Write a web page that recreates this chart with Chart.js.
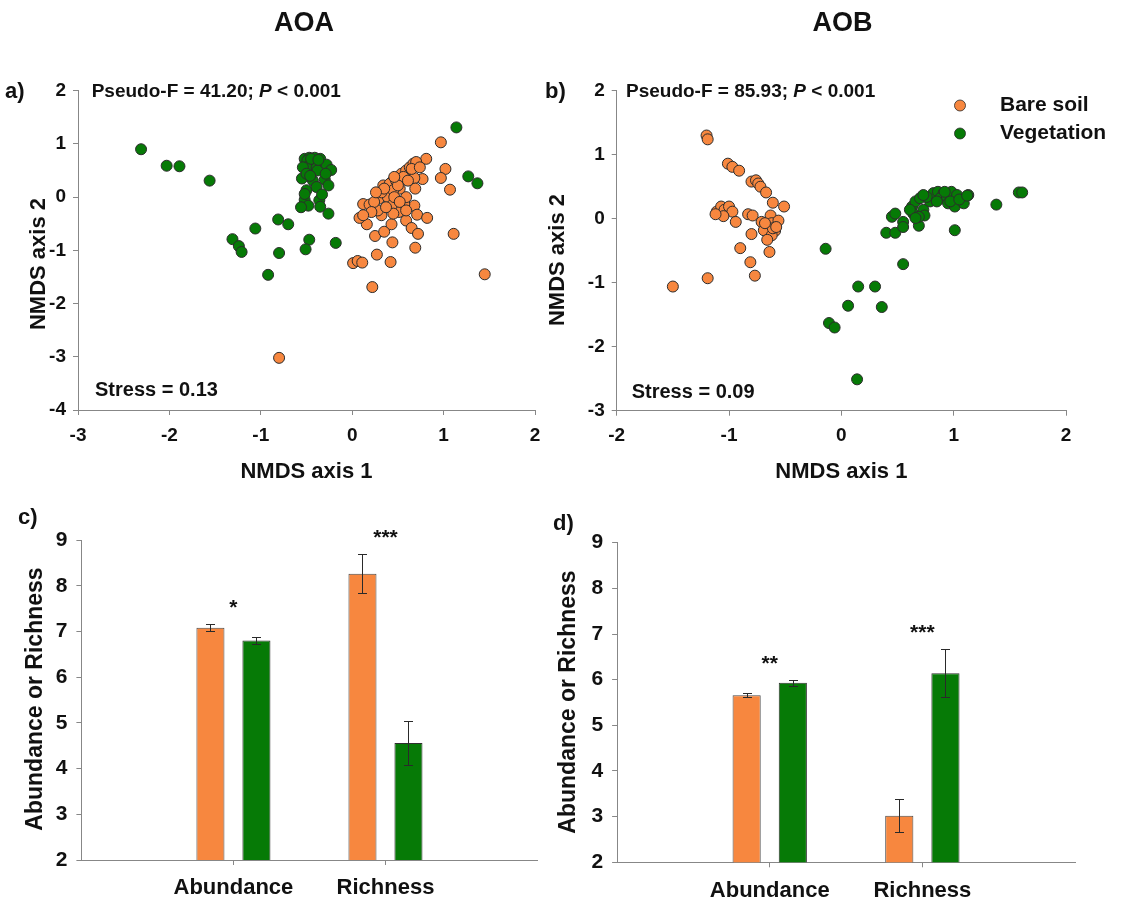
<!DOCTYPE html>
<html>
<head>
<meta charset="utf-8">
<title>AOA / AOB community structure</title>
<script src="https://cdn.jsdelivr.net/npm/chart.js@4.4.1/dist/chart.umd.min.js"></script>
<style>
  html, body { margin: 0; padding: 0; background: #fff; }
  #page { position: relative; width: 1127px; height: 903px; overflow: hidden; }
  canvas { position: absolute; }
</style>
</head>
<body>
<div id="page">
  <canvas id="nmdsAoa" width="563" height="500" style="left:0;top:0"></canvas>
  <canvas id="nmdsAob" width="597" height="500" style="left:530px;top:0"></canvas>
  <canvas id="barsAoa" width="560" height="403" style="left:0;top:500px"></canvas>
  <canvas id="barsAob" width="582" height="403" style="left:545px;top:500px"></canvas>
</div>
<script>
// NMDS site scores, AOA
const aoaBareX = [0.97, 0.81, 1.02, 0.97, 1.07, 0.77, 0.68, 0.69, 0.68, 0.71, 0.82, 0.59, 0.65, 0.72, 0.69, 1.11, 1.45, -0.80,
  0.22, 0.01, 0.06, 0.11, 0.27, 0.42, 0.44, 0.25, 0.35, 0.43, 0.51, 0.32, 0.16, 0.08, 0.12, 0.19, 0.28, 0.29, 0.39, 0.43,
  0.45, 0.57, 0.59, 0.52, 0.43, 0.32, 0.34, 0.41, 0.48, 0.54, 0.59, 0.63, 0.67, 0.70, 0.65, 0.56, 0.45, 0.24, 0.21, 0.12,
  0.46, 0.52, 0.37, 0.61, 0.50, 0.74, 0.46, 0.35, 0.26, 0.59];
const aoaBareY = [1.03, 0.72, 0.53, 0.36, 0.14, 0.34, 0.36, 0.16, -0.16, -0.33, -0.39, -0.44, -0.58, -0.69, -0.95, -0.69, -1.45, -3.02,
  -1.69, -1.24, -1.20, -1.23, -1.08, -1.22, -0.85, -0.73, -0.65, -0.51, -0.28, -0.34, -0.51, -0.39, -0.13, -0.14, -0.25, -0.03, 0.00, -0.16,
  -0.31, -0.13, 0.00, 0.16, 0.28, 0.09, 0.22, 0.25, 0.31, 0.44, 0.50, 0.56, 0.63, 0.66, 0.53, 0.38, 0.13, -0.09, -0.28, -0.34,
  0.00, -0.09, -0.19, 0.31, 0.22, 0.56, 0.38, 0.16, 0.09, -0.25];
const aoaVegX = [-2.31, -2.03, -1.89, -1.56, 1.14, 1.27, 1.37, -0.81, -0.70, -1.06, -1.31, -1.24, -1.21, -0.80, -0.92, -0.47, -0.51, -0.18,
  -0.26, -0.52, -0.47, -0.41, -0.35, -0.49, -0.43, -0.50, -0.39, -0.28, -0.23, -0.54, -0.38, -0.43, -0.55, -0.30, -0.26, -0.50,
  -0.39, -0.52, -0.48, -0.56, -0.36, -0.35, -0.52, -0.29, -0.50, -0.45, -0.37, -0.46, -0.33];
const aoaVegY = [0.90, 0.59, 0.58, 0.31, 1.31, 0.39, 0.26, -0.42, -0.51, -0.59, -0.79, -0.92, -1.03, -1.05, -1.46, -0.80, -0.98, -0.86,
  -0.31, 0.72, 0.74, 0.74, 0.72, 0.69, 0.66, 0.56, 0.55, 0.61, 0.51, 0.56, 0.50, 0.31, 0.35, 0.33, 0.22, 0.13,
  0.19, -0.05, -0.16, -0.19, -0.06, -0.18, 0.06, 0.44, 0.44, 0.72, 0.70, 0.40, 0.05];

// NMDS site scores, AOB
const aobBareX = [-1.20, -1.19, -1.01, -0.97, -0.91, -0.80, -0.76, -0.74, -0.72, -0.67, -0.61, -0.51, -1.11, -1.07, -1.04, -1.00,
  -0.97, -1.05, -1.12, -0.94, -0.83, -0.79, -0.71, -0.63, -0.62, -0.56, -0.69, -0.59, -0.62, -0.66, -0.80, -0.90, -0.64, -0.81,
  -0.77, -1.19, -1.50, -0.61, -0.68, -0.58];
const aobBareY = [1.30, 1.24, 0.86, 0.81, 0.75, 0.58, 0.60, 0.55, 0.50, 0.41, 0.25, 0.19, 0.11, 0.19, 0.14, 0.19,
  0.11, 0.04, 0.07, -0.05, 0.07, 0.05, -0.05, 0.05, -0.07, -0.03, -0.18, -0.19, -0.26, -0.33, -0.24, -0.46, -0.52, -0.68,
  -0.89, -0.93, -1.06, -0.15, -0.07, -0.13];
const aobVegX = [-0.14, 0.15, 0.30, 0.06, 0.36, -0.11, -0.06, 0.14, 0.55, 0.40, 0.48, 0.45, 0.48, 0.55, 0.55, 0.69, 1.01, 1.38,
  1.58, 1.61, 1.13, 0.63, 0.66, 0.70, 0.64, 0.73, 0.74, 0.79, 0.82, 0.86, 0.91, 0.88, 0.94, 0.95, 0.98, 1.03, 1.01, 1.09,
  0.69, 0.61, 0.76, 0.85, 0.97, 0.92, 0.73, 0.66, 1.05, 1.12];
const aobVegY = [-0.47, -1.06, -1.06, -1.36, -1.38, -1.63, -1.70, -2.51, -0.71, -0.22, -0.22, 0.03, 0.08, -0.05, -0.13, -0.11, -0.18, 0.22,
  0.41, 0.41, 0.37, 0.19, 0.27, 0.32, 0.08, 0.14, 0.05, 0.27, 0.40, 0.42, 0.40, 0.32, 0.34, 0.24, 0.42, 0.37, 0.19, 0.24,
  0.03, 0.14, 0.34, 0.27, 0.27, 0.42, 0.37, 0.01, 0.30, 0.36];

// Abundance / richness means with standard errors
const groups = ['Abundance', 'Richness'];
const seriesNames = ['Bare soil', 'Vegetation'];
const aoaBareMean = [7.08, 8.26];
const aoaBareSe = [0.08, 0.43];
const aoaVegMean = [6.80, 4.56];
const aoaVegSe = [0.08, 0.48];
const aobBareMean = [5.66, 3.02];
const aobBareSe = [0.05, 0.36];
const aobVegMean = [5.93, 6.14];
const aobVegSe = [0.06, 0.53];
const aoaStars = ['*', '***'];
const aobStars = ['**', '***'];

const FONT = "'Liberation Sans', Arial, Helvetica, sans-serif";
const ORANGE = '#F7873F';
const GREEN = '#067A06';
const AXIS = '#878787';
const INK = '#111';

function pts(xs, ys) {
  return xs.map((x, i) => ({ x: x, y: ys[i] }));
}

// empty slots either side so the two groups sit at 1/3 and 2/3 of the axis
function padded(arr) {
  return [null].concat(arr, [null]);
}

// free text: panel letters, headers, statistics, rotated axis titles
const panelText = {
  id: 'panelText',
  afterDraw(chart, args, opts) {
    const ctx = chart.ctx;
    (opts.items || []).forEach(item => {
      const parts = Array.isArray(item.text) ? item.text : [{ t: item.text }];
      const fontOf = p => (p.italic ? 'italic ' : '') + 'bold ' + item.size + 'px ' + FONT;
      ctx.save();
      ctx.translate(item.x, item.y);
      if (item.rotate) ctx.rotate(item.rotate * Math.PI / 180);
      ctx.fillStyle = INK;
      ctx.textAlign = 'left';
      ctx.textBaseline = 'middle';
      let total = 0;
      parts.forEach(p => { ctx.font = fontOf(p); total += ctx.measureText(p.t).width; });
      let x = item.align === 'center' ? -total / 2 : 0;
      parts.forEach(p => {
        ctx.font = fontOf(p);
        ctx.fillText(p.t, x, 0);
        x += ctx.measureText(p.t).width;
      });
      ctx.restore();
    });
  }
};

// round-marker legend drawn inside the plot
const dotLegend = {
  id: 'dotLegend',
  afterDraw(chart, args, opts) {
    if (!opts.show) return;
    const ctx = chart.ctx;
    chart.data.datasets.forEach((ds, i) => {
      const y = opts.y + i * opts.rowGap;
      ctx.save();
      ctx.beginPath();
      ctx.arc(opts.x, y, opts.radius, 0, Math.PI * 2);
      ctx.fillStyle = ds.backgroundColor;
      ctx.fill();
      ctx.lineWidth = 0.8;
      ctx.strokeStyle = ds.borderColor;
      ctx.stroke();
      ctx.fillStyle = INK;
      ctx.font = 'bold ' + opts.size + 'px ' + FONT;
      ctx.textBaseline = 'middle';
      ctx.fillText(ds.label, opts.textX, y);
      ctx.restore();
    });
  }
};

// standard-error whiskers plus significance asterisks over each group
const errorBars = {
  id: 'errorBars',
  afterDatasetsDraw(chart, args, opts) {
    if (!opts.errors) return;
    const ctx = chart.ctx;
    const xs = chart.scales.x, ys = chart.scales.y;
    const tops = [];
    chart.data.datasets.forEach((ds, i) => {
      chart.getDatasetMeta(i).data.forEach((bar, j) => {
        const mean = ds.data[j];
        if (mean == null) return;
        const se = opts.errors[i][j];
        const hi = Math.round(ys.getPixelForValue(mean + se)) + 0.5;
        const lo = Math.round(ys.getPixelForValue(mean - se)) + 0.5;
        const x = Math.round(bar.x) + 0.5;
        ctx.save();
        ctx.strokeStyle = '#2a2a2a';
        ctx.lineWidth = 1;
        ctx.beginPath();
        ctx.moveTo(x, hi); ctx.lineTo(x, lo);
        ctx.moveTo(x - opts.cap, hi); ctx.lineTo(x + opts.cap, hi);
        ctx.moveTo(x - opts.cap, lo); ctx.lineTo(x + opts.cap, lo);
        ctx.stroke();
        ctx.restore();
        tops[j] = Math.min(tops[j] === undefined ? Infinity : tops[j], hi);
      });
    });
    ctx.save();
    ctx.fillStyle = INK;
    ctx.font = 'bold 21px ' + FONT;
    ctx.textAlign = 'center';
    ctx.textBaseline = 'alphabetic';
    (opts.stars || []).forEach((s, j) => {
      if (!s) return;
      ctx.fillText(s, xs.getPixelForValue(j), tops[j] - opts.starLift);
    });
    ctx.restore();
  }
};

function tickFont(size) {
  return { family: FONT, size: size, weight: 'bold' };
}

function nmdsConfig(sets, xr, yr, box, texts, legend) {
  return {
    type: 'scatter',
    data: {
      datasets: sets.map(s => ({
        label: s.label,
        data: s.data,
        backgroundColor: s.color,
        borderColor: '#2c2c2c',
        borderWidth: 1,
        pointRadius: 5.5,
        pointHoverRadius: 5.5
      }))
    },
    options: {
      responsive: false,
      animation: false,
      events: [],
      layout: { padding: box.padding },
      plugins: {
        legend: { display: false },
        tooltip: { enabled: false },
        panelText: { items: texts },
        dotLegend: legend
      },
      scales: {
        x: {
          type: 'linear', min: xr[0], max: xr[1],
          afterFit: s => { s.height = box.xh; },
          ticks: { stepSize: 1, color: INK, padding: 9, font: tickFont(19) },
          grid: { drawOnChartArea: false, tickLength: 5, color: AXIS },
          border: { color: AXIS, width: 1 },
          title: {
            display: true, text: 'NMDS axis 1', color: INK,
            font: tickFont(22), padding: { top: 0, bottom: 15 }
          }
        },
        y: {
          type: 'linear', min: yr[0], max: yr[1],
          afterFit: s => { s.width = box.yw; },
          ticks: { stepSize: 1, color: INK, padding: 7, font: tickFont(19) },
          grid: { drawOnChartArea: false, tickLength: 5, color: AXIS },
          border: { color: AXIS, width: 1 }
        }
      }
    },
    plugins: [panelText, dotLegend]
  };
}

function barConfig(bare, veg, errs, stars, box, texts) {
  return {
    type: 'bar',
    data: {
      labels: padded(groups).map(g => g || ''),
      datasets: [
        { label: seriesNames[0], data: padded(bare), backgroundColor: ORANGE, borderColor: '#4a4a4a', borderWidth: 1 },
        { label: seriesNames[1], data: padded(veg), backgroundColor: GREEN, borderColor: '#2f2f2f', borderWidth: 1 }
      ]
    },
    options: {
      responsive: false,
      animation: false,
      events: [],
      categoryPercentage: 0.605,
      barPercentage: 0.61,
      layout: { padding: box.padding },
      plugins: {
        legend: { display: false },
        tooltip: { enabled: false },
        panelText: { items: texts },
        errorBars: { errors: [padded(errs[0]), padded(errs[1])], stars: padded(stars), cap: 4.5, starLift: 11 }
      },
      scales: {
        x: {
          offset: false,
          afterFit: s => { s.height = box.xh; },
          ticks: { color: INK, padding: 10, maxRotation: 0, autoSkip: false, font: tickFont(22) },
          grid: {
            offset: false, drawOnChartArea: false, tickLength: 5, color: AXIS,
            tickColor: c => (c.index === 1 || c.index === 2) ? AXIS : 'rgba(0,0,0,0)'
          },
          border: { color: AXIS, width: 1 }
        },
        y: {
          min: 2, max: 9,
          afterFit: s => { s.width = box.yw; },
          ticks: { stepSize: 1, color: INK, padding: 9, font: tickFont(21) },
          grid: { drawOnChartArea: false, tickLength: 5, color: AXIS },
          border: { color: AXIS, width: 1 }
        }
      }
    },
    plugins: [panelText, errorBars]
  };
}

new Chart(document.getElementById('nmdsAoa'), nmdsConfig(
  [
    { label: seriesNames[0], data: pts(aoaBareX, aoaBareY), color: ORANGE },
    { label: seriesNames[1], data: pts(aoaVegX, aoaVegY), color: GREEN }
  ],
  [-3, 2], [-4, 2],
  { padding: { left: 0, top: 90.7, right: 28, bottom: 0 }, yw: 78, xh: 90 },
  [
    { text: 'AOA', x: 304, y: 24, size: 27, align: 'center' },
    { text: 'a)', x: 5, y: 92, size: 22 },
    { text: [{ t: 'Pseudo-F = 41.20; ' }, { t: 'P', italic: true }, { t: ' < 0.001' }], x: 91.7, y: 91.5, size: 19 },
    { text: 'Stress = 0.13', x: 95, y: 390, size: 20 },
    { text: 'NMDS axis 2', x: 39, y: 264, size: 22, rotate: -90, align: 'center' }
  ],
  { show: false }
));

new Chart(document.getElementById('nmdsAob'), nmdsConfig(
  [
    { label: seriesNames[0], data: pts(aobBareX, aobBareY), color: ORANGE },
    { label: seriesNames[1], data: pts(aobVegX, aobVegY), color: GREEN }
  ],
  [-2, 2], [-3, 2],
  { padding: { left: 0, top: 90.7, right: 61, bottom: 0 }, yw: 86.7, xh: 89.3 },
  [
    { text: 'AOB', x: 312.5, y: 24, size: 27, align: 'center' },
    { text: 'b)', x: 15, y: 92, size: 22 },
    { text: [{ t: 'Pseudo-F = 85.93; ' }, { t: 'P', italic: true }, { t: ' < 0.001' }], x: 96, y: 91.5, size: 19 },
    { text: 'Stress = 0.09', x: 101.7, y: 392, size: 20 },
    { text: 'NMDS axis 2', x: 27.5, y: 260, size: 22, rotate: -90, align: 'center' }
  ],
  { show: true, x: 430, y: 105.5, rowGap: 28, radius: 5.5, textX: 470, size: 21 }
));

new Chart(document.getElementById('barsAoa'), barConfig(
  aoaBareMean, aoaVegMean, [aoaBareSe, aoaVegSe], aoaStars,
  { padding: { left: 0, top: 40, right: 22.5, bottom: 0 }, yw: 81.4, xh: 43 },
  [
    { text: 'c)', x: 18, y: 18, size: 22 },
    { text: 'Abundance or Richness', x: 36, y: 199, size: 23, rotate: -90, align: 'center' }
  ]
));

new Chart(document.getElementById('barsAob'), barConfig(
  aobBareMean, aobVegMean, [aobBareSe, aobVegSe], aobStars,
  { padding: { left: 0, top: 42.7, right: 52, bottom: 0 }, yw: 72.1, xh: 40.7 },
  [
    { text: 'd)', x: 8, y: 24, size: 22 },
    { text: 'Abundance or Richness', x: 24, y: 202, size: 23, rotate: -90, align: 'center' }
  ]
));
</script>
</body>
</html>
